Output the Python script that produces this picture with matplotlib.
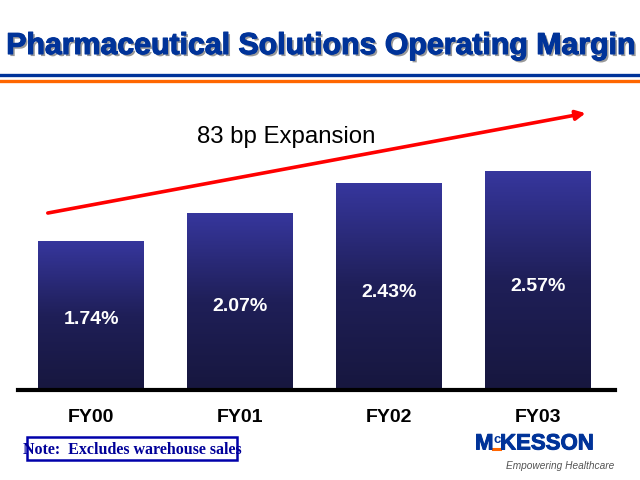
import matplotlib
matplotlib.use("Agg")
import matplotlib.pyplot as plt
import matplotlib.patheffects as pe
import numpy as np

# data
categories = ["FY00", "FY01", "FY02", "FY03"]
margins = [1.74, 2.07, 2.43, 2.57]
value_labels = ["1.74%", "2.07%", "2.43%", "2.57%"]
title = "Pharmaceutical Solutions Operating Margin"
arrow_text = "83 bp Expansion"
note_text = "Note:  Excludes warehouse sales"

W, H = 640, 480
fig = plt.figure(figsize=(6.4, 4.8), dpi=100)
fig.patch.set_facecolor("white")


def fx(px):
    return px / W


def fy(py):
    return 1 - py / H


# title with drop shadow
fig.text(fx(320), fy(46), title, ha="center", va="center",
         fontsize=21.8, fontweight="heavy", color="#003399",
         family="Liberation Sans",
         path_effects=[pe.withSimplePatchShadow(offset=(1.5, -1.5),
                                                shadow_rgbFace="#999999", alpha=1.0),
                       pe.withStroke(linewidth=0.8, foreground="#003399")])
# rule lines under the title
fig.add_artist(plt.Line2D([0, 1], [fy(75), fy(75)], color="#003399", lw=2.4))
fig.add_artist(plt.Line2D([0, 1], [fy(80.5), fy(80.5)], color="#ff6600", lw=2.4))

# chart axes: x 18..615 px, y 100..389 px
ax = fig.add_axes([fx(18), fy(389), fx(615 - 18), (389 - 100) / H])
ax.axis("off")

x = np.arange(len(categories))
width = 0.711
grad = np.linspace(0, 1, 64).reshape(-1, 1)
cmap = matplotlib.colors.LinearSegmentedColormap.from_list(
    "bar", ["#17173f", "#1f1f58", "#36369c"])
for xi, h, lab in zip(x, margins, value_labels):
    ax.imshow(grad, extent=(xi - width / 2, xi + width / 2, 0, h),
              origin="lower", aspect="auto", cmap=cmap, interpolation="bilinear")
    ax.text(xi, h * 0.47, lab, ha="center", va="center", color="white",
            fontsize=14, fontweight="bold", family="Liberation Sans")
    ax.text(xi, -0.34, categories[xi], ha="center", va="center", color="black",
            fontsize=14, fontweight="bold", family="Liberation Sans", clip_on=False)
ax.set_xlim(-0.49, 3.517)
ax.set_ylim(0, 3.416)

# baseline
ax.plot([-0.49, 3.517], [-0.012, -0.012], color="black", lw=3, clip_on=False)

# trend arrow
ax.annotate("", xy=(3.32, 3.26), xytext=(-0.29, 2.08),
            arrowprops=dict(arrowstyle="-|>", color="#ff0000", lw=2.6,
                            mutation_scale=14, shrinkA=0, shrinkB=0))
ax.text(1.31, 2.98, arrow_text, ha="center", va="center", fontsize=17.3,
        color="black", family="Liberation Sans")

# note box
fig.text(fx(23), fy(450), note_text, ha="left", va="center", fontsize=11.5,
         fontweight="bold", color="#000099", family="Liberation Serif")
fig.add_artist(plt.Rectangle((fx(27), fy(460)), fx(237 - 27), (460 - 437) / H,
                             fill=False, edgecolor="#0000aa", lw=1.8))

# logo
fig.text(fx(475), fy(444), "M", ha="left", va="center", fontsize=16,
         fontweight="heavy", color="#003399", family="Liberation Sans",
         path_effects=[pe.withStroke(linewidth=0.7, foreground="#003399")])
fig.text(fx(493), fy(440), "c", ha="left", va="center", fontsize=9.5,
         fontweight="heavy", color="#003399", family="Liberation Sans")
fig.add_artist(plt.Line2D([fx(493), fx(500)], [fy(448.5), fy(448.5)], color="#ff6600", lw=2.2))
fig.text(fx(500), fy(444), "KESSON", ha="left", va="center", fontsize=16,
         fontweight="heavy", color="#003399", family="Liberation Sans",
         path_effects=[pe.withStroke(linewidth=0.7, foreground="#003399")])
fig.text(fx(506), fy(466), "Empowering Healthcare", ha="left", va="center",
         fontsize=7.3, style="italic", color="#555555", family="Liberation Sans")

fig.savefig("out.png", dpi=100)
